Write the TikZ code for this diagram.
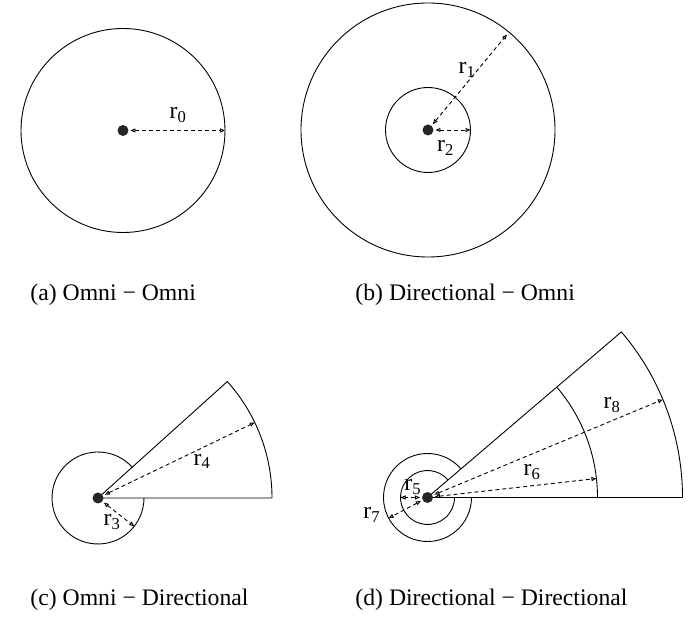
\documentclass[tikz,border=0pt]{standalone}
\usepackage{fontspec}
\setmainfont{Liberation Serif}
\usetikzlibrary{arrows.meta}

\begin{document}
\begin{tikzpicture}[x=1pt, y=1pt, line width=0.9pt,
    dot/.style={circle,fill=black!85,inner sep=0pt,minimum size=11pt},
    radius line/.style={draw=black,dash pattern=on 4pt off 3pt,
      {Triangle[open,length=5pt,width=4pt]}-{Triangle[open,length=5pt,width=4pt]},shorten <=1.5pt},
    rlabel/.style={font=\fontsize{23.7}{28}\selectfont,inner sep=0pt},
    caption/.style={font=\fontsize{23.7}{28}\selectfont,anchor=west,inner sep=0pt}]
  \useasboundingbox (0,0) rectangle (699,629);
  % (a) omni - omni
  \coordinate (ca) at (123,498.5);
  \draw (ca) circle[radius=102];
  \node[dot] (da) at (ca) {};
  \path (ca) ++(0:102) coordinate (r0end);
  \draw[radius line] (da) -- (r0end);
  \node[rlabel] at (178,514) {r\textsubscript{0}};
  \node[caption] (capa) at (30,334) {(a) Omni − Omni};
  % (b) directional - omni
  \coordinate (cb) at (428,499);
  \draw (cb) circle[radius=127];
  \draw (cb) circle[radius=42.5];
  \node[dot] (db) at (cb) {};
  \path (cb) ++(50.4:124) coordinate (r1end);
  \path (cb) ++(0:42.5) coordinate (r2end);
  \draw[radius line] (db) -- (r1end);
  \draw[radius line] (db) -- (r2end);
  \node[rlabel] at (467,559) {r\textsubscript{1}};
  \node[rlabel] at (445.5,481) {r\textsubscript{2}};
  \node[caption] (capb) at (355,334) {(b) Directional − Omni};
  % (c) omni - directional
  \coordinate (cc) at (98,131);
  \draw (cc) ++(42:46) arc[start angle=42,end angle=360,radius=46];
  \draw (cc) ++(0:174) -- (cc) -- ++(42:174) arc[start angle=42,end angle=0,radius=174];
  \node[dot] (dc) at (cc) {};
  \path (cc) ++(25.7:174) coordinate (r4end);
  \path (cc) ++(-38:46) coordinate (r3end);
  \draw[radius line] (dc) -- (r4end);
  \draw[radius line] (dc) -- (r3end);
  \node[rlabel] at (202,167.5) {r\textsubscript{4}};
  \node[rlabel] at (112,107) {r\textsubscript{3}};
  \node[caption] (capc) at (30,29) {(c) Omni − Directional};
  % (d) directional - directional
  \coordinate (cd) at (427.5,131.5);
  \draw (cd) ++(40.5:27) arc[start angle=40.5,end angle=360,radius=27];
  \draw (cd) ++(40.5:44) arc[start angle=40.5,end angle=360,radius=44];
  \draw (cd) ++(40.5:170) arc[start angle=40.5,end angle=0,radius=170];
  \draw (cd) ++(0:255) -- (cd) -- ++(40.5:255) arc[start angle=40.5,end angle=0,radius=255];
  \node[dot] (dd) at (cd) {};
  \path (cd) ++(180:27) coordinate (r5end);
  \path (cd) ++(208:44) coordinate (r7end);
  \path (cd) ++(6.4:170) coordinate (r6end);
  \path (cd) ++(22.6:255) coordinate (r8end);
  \draw[radius line] (dd) -- (r5end);
  \draw[radius line] (dd) -- (r7end);
  \draw[radius line] (dd) -- (r6end);
  \draw[radius line] (dd) -- (r8end);
  \node[rlabel] at (412.7,142.3) {r\textsubscript{5}};
  \node[rlabel] at (371.7,114) {r\textsubscript{7}};
  \node[rlabel] at (532,157) {r\textsubscript{6}};
  \node[rlabel] at (612,224) {r\textsubscript{8}};
  \node[caption] (capd) at (355,29) {(d) Directional − Directional};
\end{tikzpicture}
\end{document}
